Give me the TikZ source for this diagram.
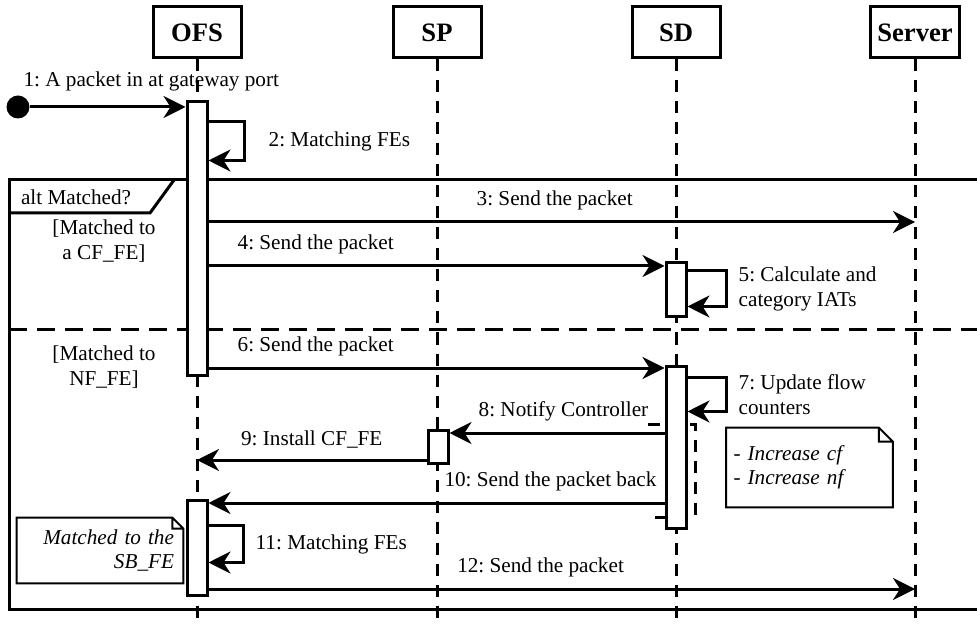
\documentclass[tikz,border=0pt]{standalone}
\usepackage{fontspec}
\setmainfont{Liberation Serif}
\usetikzlibrary{arrows.meta}
\frenchspacing

\begin{document}
\begin{tikzpicture}[x=0.5pt,y=-0.5pt,
font=\fontsize{10.6}{12.5}\selectfont,
hd/.style={draw,line width=1.5pt,minimum width=44pt,minimum height=25.5pt,
  font=\fontsize{13.3}{15}\selectfont\bfseries},
life/.style={line width=1.5pt,dash pattern=on 6pt off 4.5pt},
act/.style={draw,fill=white,line width=1.5pt,minimum width=10pt,inner sep=0pt},
msg/.style={line width=1.5pt,-{Stealth[length=11pt,width=11pt,inset=3.5pt]}},
note/.style={inner sep=3.5pt,font=\fontsize{10.6}{12}\selectfont\itshape},
frm/.style={line width=1.5pt}]
\useasboundingbox (0,0) rectangle (977,624);
\clip (0,0) rectangle (977,624);

%alt frame
\draw[frm] (9,180) rectangle (990,609);
\draw[frm] (9,213) -- (150,213) -- (174,180);
\draw[frm,dash pattern=on 9pt off 5pt] (9,330) -- (990,330);
\node[anchor=west] (alt) at (14,197) {alt Matched?};
\node[align=center] (g1) at (104,241) {[Matched to\\a CF\_FE]};
\node[align=center] (g2) at (104,367) {[Matched to\\NF\_FE]};

%heads and lifelines
\node[hd] (ofs) at (197,32.5) {OFS};
\node[hd] (sp) at (437,32.5) {SP};
\node[hd] (sd) at (676,32.5) {SD};
\node[hd] (srv) at (915,32.5) {Server};
\draw[life]
(ofs.south) -- (ofs |- 0,640)
(sp.south) -- (sp |- 0,640)
(sd.south) -- (sd |- 0,640)
(srv.south) -- (srv |- 0,640);
\draw[life] (648,424) -| (695,517) -- (648,517);

\node[act,minimum height=136.5pt] (a1) at (197,238.5) {};
\node[act,minimum height=47.5pt] (a2) at (197,547.5) {};
\node[act,minimum height=27pt] (d1) at (676,290) {};
\node[act,minimum height=81pt] (d2) at (676,447) {};
\node[act,minimum height=16.5pt] (p1) at (438,446.5) {};
\node[circle,fill,inner sep=0pt,minimum size=11.5pt] (st) at (18,107) {};

%messages
\draw[msg] (st) -- (st -| a1.west) node[above=4pt,pos=0.78] {1: A packet in at gateway port};
\draw[msg] (a1.east |- 0,222) -- (srv |- 0,222) node[above=2pt,pos=0.49] {3: Send the packet};
\draw[msg] (a1.east |- 0,266) -- (d1.west |- 0,266) node[above=2pt,pos=0.235] {4: Send the packet};
\draw[msg] (a1.east |- 0,368) -- (d2.west |- 0,368) node[above=2pt,pos=0.235] {6: Send the packet};
\draw[msg] (d2.west |- 0,433) -- (p1.east |- 0,433) node[above=2pt,pos=0.47] {8: Notify Controller};
\draw[msg] (p1.west |- 0,460) -- (ofs |- 0,460) node[above=2pt,pos=0.5] {9: Install CF\_FE};
\draw[msg] (d2.west |- 0,503) -- (a2.east |- 0,503) node[above=2pt,pos=0.25] {10: Send the packet back};
\draw[msg] (a2.east |- 0,589) -- (srv |- 0,589) node[above=2pt,pos=0.47] {12: Send the packet};

%self calls
\draw[msg] ([yshift=-10.5pt]a1.north east) -- ++(36,0) -- ++(0,39)
  node[midway,right=8pt] {2: Matching FEs} -- ++(-36,0);
\draw[msg] ([yshift=-4.5pt]d1.north east) -- ++(39,0) -- ++(0,36)
  node[midway,right=2pt,align=left] {5: Calculate and\\category IATs} -- ++(-39,0);
\draw[msg] ([yshift=-6.5pt]d2.north east) -- ++(39,0) -- ++(0,34)
  node[midway,right=2pt,align=left] {7: Update flow\\counters} -- ++(-39,0);
\draw[msg] ([yshift=-13.5pt]a2.north east) -- ++(35,0) -- ++(0,37)
  node[midway,right=2pt] {11: Matching FEs} -- ++(-35,0);

%notes
\node[note,text width=74pt,align=right,minimum height=32.5pt,inner sep=4.5pt] (n1) at (100,550.5) {Matched to the\\SB\_FE};
\draw[line width=1pt] (n1.north west) -- ([xshift=-5.5pt]n1.north east) -- ([yshift=-5.5pt]n1.north east)
  |- (n1.south west) -- cycle
  ([xshift=-5.5pt]n1.north east) |- ([yshift=-5.5pt]n1.north east);
\node[note,text width=76pt,align=left,minimum height=39.5pt] (n2) at (809.5,467.5) {- Increase cf\\- Increase nf};
\draw[line width=1pt] (n2.north west) -- ([xshift=-7pt]n2.north east) -- ([yshift=-7pt]n2.north east)
  |- (n2.south west) -- cycle
  ([xshift=-7pt]n2.north east) |- ([yshift=-7pt]n2.north east);
\end{tikzpicture}
\end{document}
